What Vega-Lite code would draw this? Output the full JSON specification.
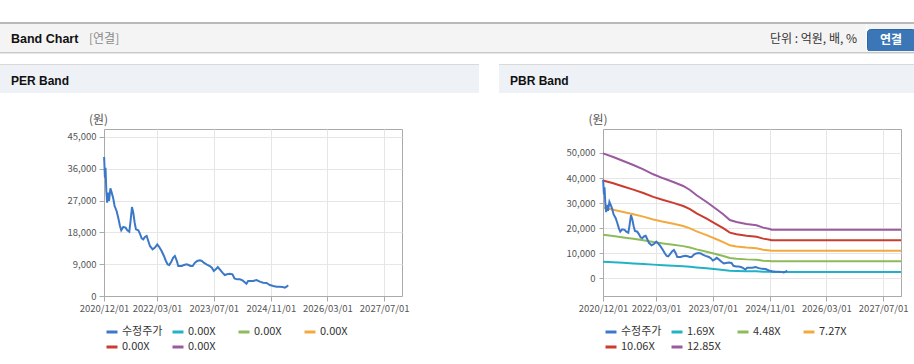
{
  "$schema": "https://vega.github.io/schema/vega-lite/v6.json",
  "background": "#ffffff",
  "padding": {"left": 0, "top": 22, "right": 0, "bottom": 0},
  "config": {
    "view": {"stroke": null},
    "title": {"anchor": "start", "frame": "group", "baseline": "middle"},
    "axis": {
      "labelFont": "Noto Sans CJK KR", "labelFontSize": 9.5, "labelColor": "#555555",
      "tickColor": "#aaaaaa", "domainColor": "#aaaaaa", "gridColor": "#e6e6e6",
      "titleFont": "Noto Sans CJK KR", "titleFontWeight": "normal", "titleFontSize": 12, "titleColor": "#555555"
    }
  },
  "datasets": {
    "price": [
      {"d":"2020-12-02","s":"수정주가","v":39340},{"d":"2020-12-09","s":"수정주가","v":33490},{"d":"2020-12-14","s":"수정주가","v":36300},{"d":"2020-12-21","s":"수정주가","v":29720},{"d":"2020-12-28","s":"수정주가","v":26410},{"d":"2021-01-05","s":"수정주가","v":29250},{"d":"2021-01-13","s":"수정주가","v":26890},{"d":"2021-01-25","s":"수정주가","v":30470},{"d":"2021-02-05","s":"수정주가","v":29250},{"d":"2021-02-17","s":"수정주가","v":27830},{"d":"2021-03-02","s":"수정주가","v":25470},{"d":"2021-03-19","s":"수정주가","v":24060},{"d":"2021-04-02","s":"수정주가","v":22170},{"d":"2021-04-17","s":"수정주가","v":19810},{"d":"2021-04-28","s":"수정주가","v":18590},{"d":"2021-05-15","s":"수정주가","v":19530},{"d":"2021-06-04","s":"수정주가","v":19340},{"d":"2021-06-19","s":"수정주가","v":18590},{"d":"2021-07-06","s":"수정주가","v":18210},{"d":"2021-07-17","s":"수정주가","v":21230},{"d":"2021-07-29","s":"수정주가","v":25190},{"d":"2021-08-09","s":"수정주가","v":23590},{"d":"2021-08-21","s":"수정주가","v":20750},{"d":"2021-09-01","s":"수정주가","v":18870},{"d":"2021-09-21","s":"수정주가","v":18590},{"d":"2021-10-05","s":"수정주가","v":17640},{"d":"2021-10-20","s":"수정주가","v":16320},{"d":"2021-11-03","s":"수정주가","v":16040},{"d":"2021-11-17","s":"수정주가","v":16700},{"d":"2021-12-02","s":"수정주가","v":16980},{"d":"2021-12-16","s":"수정주가","v":15570},{"d":"2021-12-30","s":"수정주가","v":14150},{"d":"2022-01-22","s":"수정주가","v":13210},{"d":"2022-02-11","s":"수정주가","v":13680},{"d":"2022-03-03","s":"수정주가","v":14620},{"d":"2022-03-20","s":"수정주가","v":13870},{"d":"2022-04-09","s":"수정주가","v":12740},{"d":"2022-04-29","s":"수정주가","v":11320},{"d":"2022-05-16","s":"수정주가","v":9910},{"d":"2022-05-31","s":"수정주가","v":8960},{"d":"2022-06-14","s":"수정주가","v":8770},{"d":"2022-07-01","s":"수정주가","v":9720},{"d":"2022-07-18","s":"수정주가","v":10850},{"d":"2022-08-01","s":"수정주가","v":11320},{"d":"2022-08-16","s":"수정주가","v":10090},{"d":"2022-08-30","s":"수정주가","v":8490},{"d":"2022-09-28","s":"수정주가","v":8490},{"d":"2022-10-18","s":"수정주가","v":8770},{"d":"2022-11-10","s":"수정주가","v":8960},{"d":"2022-11-27","s":"수정주가","v":8770},{"d":"2022-12-14","s":"수정주가","v":8490},{"d":"2022-12-31","s":"수정주가","v":8490},{"d":"2023-01-20","s":"수정주가","v":9430},{"d":"2023-02-09","s":"수정주가","v":9910},{"d":"2023-03-03","s":"수정주가","v":10090},{"d":"2023-03-20","s":"수정주가","v":9910},{"d":"2023-04-06","s":"수정주가","v":9430},{"d":"2023-04-29","s":"수정주가","v":8960},{"d":"2023-05-28","s":"수정주가","v":8490},{"d":"2023-06-14","s":"수정주가","v":8020},{"d":"2023-07-01","s":"수정주가","v":7080},{"d":"2023-07-18","s":"수정주가","v":7550},{"d":"2023-08-04","s":"수정주가","v":8210},{"d":"2023-08-21","s":"수정주가","v":7550},{"d":"2023-09-13","s":"수정주가","v":6600},{"d":"2023-10-03","s":"수정주가","v":5940},{"d":"2023-10-23","s":"수정주가","v":6130},{"d":"2023-11-15","s":"수정주가","v":6320},{"d":"2023-12-08","s":"수정주가","v":6130},{"d":"2023-12-25","s":"수정주가","v":5000},{"d":"2024-01-17","s":"수정주가","v":4720},{"d":"2024-02-09","s":"수정주가","v":4720},{"d":"2024-03-03","s":"수정주가","v":4430},{"d":"2024-03-17","s":"수정주가","v":4060},{"d":"2024-04-06","s":"수정주가","v":3490},{"d":"2024-04-20","s":"수정주가","v":4250},{"d":"2024-06-03","s":"수정주가","v":4250},{"d":"2024-07-01","s":"수정주가","v":4530},{"d":"2024-07-30","s":"수정주가","v":4060},{"d":"2024-08-27","s":"수정주가","v":3770},{"d":"2024-09-25","s":"수정주가","v":3680},{"d":"2024-10-24","s":"수정주가","v":3110},{"d":"2024-11-22","s":"수정주가","v":2830},{"d":"2024-12-20","s":"수정주가","v":2640},{"d":"2025-01-18","s":"수정주가","v":2640},{"d":"2025-02-10","s":"수정주가","v":2550},{"d":"2025-03-02","s":"수정주가","v":2360},{"d":"2025-03-16","s":"수정주가","v":2640},{"d":"2025-03-30","s":"수정주가","v":3020}
    ],
    "pbr": [
      {"d":"2020-12-01","s":"1.69X","v":6557},{"d":"2021-02-27","s":"1.69X","v":6366},{"d":"2021-05-24","s":"1.69X","v":6157},{"d":"2021-08-18","s":"1.69X","v":5945},{"d":"2021-11-12","s":"1.69X","v":5719},{"d":"2022-02-05","s":"1.69X","v":5459},{"d":"2022-05-02","s":"1.69X","v":5247},{"d":"2022-07-27","s":"1.69X","v":5055},{"d":"2022-10-20","s":"1.69X","v":4844},{"d":"2022-12-17","s":"1.69X","v":4634},{"d":"2023-02-12","s":"1.69X","v":4355},{"d":"2023-05-09","s":"1.69X","v":4005},{"d":"2023-08-02","s":"1.69X","v":3620},{"d":"2023-09-28","s":"1.69X","v":3360},{"d":"2023-11-24","s":"1.69X","v":3061},{"d":"2024-01-20","s":"1.69X","v":2956},{"d":"2024-04-15","s":"1.69X","v":2849},{"d":"2024-07-10","s":"1.69X","v":2782},{"d":"2024-09-05","s":"1.69X","v":2658},{"d":"2024-11-01","s":"1.69X","v":2589},{"d":"2024-11-15","s":"1.69X","v":2554},{"d":"2027-12-01","s":"1.69X","v":2554},
      {"d":"2020-12-01","s":"4.48X","v":17382},{"d":"2021-02-27","s":"4.48X","v":16876},{"d":"2021-05-24","s":"4.48X","v":16321},{"d":"2021-08-18","s":"4.48X","v":15761},{"d":"2021-11-12","s":"4.48X","v":15160},{"d":"2022-02-05","s":"4.48X","v":14470},{"d":"2022-05-02","s":"4.48X","v":13910},{"d":"2022-07-27","s":"4.48X","v":13400},{"d":"2022-10-20","s":"4.48X","v":12840},{"d":"2022-12-17","s":"4.48X","v":12284},{"d":"2023-02-12","s":"4.48X","v":11545},{"d":"2023-05-09","s":"4.48X","v":10618},{"d":"2023-08-02","s":"4.48X","v":9596},{"d":"2023-09-28","s":"4.48X","v":8906},{"d":"2023-11-24","s":"4.48X","v":8113},{"d":"2024-01-20","s":"4.48X","v":7836},{"d":"2024-04-15","s":"4.48X","v":7553},{"d":"2024-07-10","s":"4.48X","v":7374},{"d":"2024-09-05","s":"4.48X","v":7047},{"d":"2024-11-01","s":"4.48X","v":6863},{"d":"2024-11-15","s":"4.48X","v":6769},{"d":"2027-12-01","s":"4.48X","v":6769},
      {"d":"2020-12-01","s":"7.27X","v":28208},{"d":"2021-02-27","s":"7.27X","v":27386},{"d":"2021-05-24","s":"7.27X","v":26485},{"d":"2021-08-18","s":"7.27X","v":25576},{"d":"2021-11-12","s":"7.27X","v":24602},{"d":"2022-02-05","s":"7.27X","v":23482},{"d":"2022-05-02","s":"7.27X","v":22573},{"d":"2022-07-27","s":"7.27X","v":21745},{"d":"2022-10-20","s":"7.27X","v":20836},{"d":"2022-12-17","s":"7.27X","v":19934},{"d":"2023-02-12","s":"7.27X","v":18735},{"d":"2023-05-09","s":"7.27X","v":17230},{"d":"2023-08-02","s":"7.27X","v":15572},{"d":"2023-09-28","s":"7.27X","v":14453},{"d":"2023-11-24","s":"7.27X","v":13166},{"d":"2024-01-20","s":"7.27X","v":12715},{"d":"2024-04-15","s":"7.27X","v":12257},{"d":"2024-07-10","s":"7.27X","v":11966},{"d":"2024-09-05","s":"7.27X","v":11436},{"d":"2024-11-01","s":"7.27X","v":11138},{"d":"2024-11-15","s":"7.27X","v":10985},{"d":"2027-12-01","s":"7.27X","v":10985},
      {"d":"2020-12-01","s":"10.06X","v":39033},{"d":"2021-02-27","s":"10.06X","v":37896},{"d":"2021-05-24","s":"10.06X","v":36649},{"d":"2021-08-18","s":"10.06X","v":35391},{"d":"2021-11-12","s":"10.06X","v":34043},{"d":"2022-02-05","s":"10.06X","v":32494},{"d":"2022-05-02","s":"10.06X","v":31236},{"d":"2022-07-27","s":"10.06X","v":30089},{"d":"2022-10-20","s":"10.06X","v":28832},{"d":"2022-12-17","s":"10.06X","v":27585},{"d":"2023-02-12","s":"10.06X","v":25925},{"d":"2023-05-09","s":"10.06X","v":23842},{"d":"2023-08-02","s":"10.06X","v":21549},{"d":"2023-09-28","s":"10.06X","v":19999},{"d":"2023-11-24","s":"10.06X","v":18219},{"d":"2024-01-20","s":"10.06X","v":17595},{"d":"2024-04-15","s":"10.06X","v":16961},{"d":"2024-07-10","s":"10.06X","v":16559},{"d":"2024-09-05","s":"10.06X","v":15824},{"d":"2024-11-01","s":"10.06X","v":15412},{"d":"2024-11-15","s":"10.06X","v":15201},{"d":"2027-12-01","s":"10.06X","v":15201},
      {"d":"2020-12-01","s":"12.85X","v":49858},{"d":"2021-02-27","s":"12.85X","v":48406},{"d":"2021-05-24","s":"12.85X","v":46813},{"d":"2021-08-18","s":"12.85X","v":45206},{"d":"2021-11-12","s":"12.85X","v":43484},{"d":"2022-02-05","s":"12.85X","v":41506},{"d":"2022-05-02","s":"12.85X","v":39899},{"d":"2022-07-27","s":"12.85X","v":38434},{"d":"2022-10-20","s":"12.85X","v":36828},{"d":"2022-12-17","s":"12.85X","v":35235},{"d":"2023-02-12","s":"12.85X","v":33114},{"d":"2023-05-09","s":"12.85X","v":30455},{"d":"2023-08-02","s":"12.85X","v":27525},{"d":"2023-09-28","s":"12.85X","v":25546},{"d":"2023-11-24","s":"12.85X","v":23271},{"d":"2024-01-20","s":"12.85X","v":22475},{"d":"2024-04-15","s":"12.85X","v":21665},{"d":"2024-07-10","s":"12.85X","v":21151},{"d":"2024-09-05","s":"12.85X","v":20213},{"d":"2024-11-01","s":"12.85X","v":19686},{"d":"2024-11-15","s":"12.85X","v":19416},{"d":"2027-12-01","s":"12.85X","v":19416}
    ]
  },
  "spacing": 0,
  "vconcat": [
    {"width": 914, "height": 2, "data": {"values": []}, "mark": "point", "view": {"fill": "#b9b9b9"}},
    {
      "hconcat": [
        {"width": 86, "height": 28, "data": {"values": []}, "mark": "point", "view": {"fill": "#f4f4f4"},
         "title": {"text": "Band Chart", "dx": 11, "dy": 7, "offset": -14.5, "font": "Liberation Sans", "fontSize": 12.5, "fontWeight": "bold", "color": "#111111"}},
        {"width": 684, "height": 28, "data": {"values": []}, "mark": "point", "view": {"fill": "#f4f4f4"},
         "title": {"text": "[연결]", "dx": 3, "dy": 7, "offset": -14.5, "font": "Noto Sans CJK KR", "fontSize": 12, "fontWeight": "normal", "color": "#8a8a8a"}},
        {"width": 96, "height": 28, "data": {"values": []}, "mark": "point", "view": {"fill": "#f4f4f4"},
         "title": {"text": "단위 : 억원, 배, %", "dx": 0, "dy": 7, "offset": -14.5, "font": "Noto Sans CJK KR", "fontSize": 12, "fontWeight": "normal", "color": "#333333"}},
        {
          "vconcat": [
            {"width": 48, "height": 5, "data": {"values": []}, "mark": "point", "view": {"fill": "#f4f4f4"}},
            {"width": 48, "height": 22, "data": {"values": []}, "mark": "point", "view": {"fill": "#3b77b7", "stroke": "#2e65a3", "cornerRadius": 3},
             "title": {"text": "연결", "anchor": "middle", "dy": 7, "offset": -11, "font": "Noto Sans CJK KR", "fontSize": 12, "fontWeight": "bold", "color": "#ffffff"}},
            {"width": 48, "height": 1, "data": {"values": []}, "mark": "point", "view": {"fill": "#f4f4f4"}}
          ],
          "spacing": 0, "bounds": "flush"
        }
      ],
      "spacing": 0
    },
    {"width": 914, "height": 1, "data": {"values": []}, "mark": "point", "view": {"fill": "#c8c8c8"}},
    {"width": 914, "height": 1, "data": {"values": []}, "mark": "point", "view": {"fill": "#e6e6e6"}},
    {"width": 914, "height": 10, "data": {"values": []}, "mark": "point"},
    {
      "resolve": {"scale": {"color": "independent"}, "legend": {"color": "independent"}},
      "hconcat": [
        {
          "resolve": {"scale": {"color": "independent"}, "legend": {"color": "independent"}},
          "vconcat": [
            {"width": 479, "height": 1, "data": {"values": []}, "mark": "point", "view": {"fill": "#dadada"}},
            {"width": 479, "height": 28, "data": {"values": []}, "mark": "point", "view": {"fill": "#eef2f7"},
             "title": {"text": "PER Band", "dx": 11, "dy": 7, "offset": -15.5, "font": "Liberation Sans", "fontSize": 12, "fontWeight": "bold", "color": "#111111"}},
            {"width": 479, "height": 19, "data": {"values": []}, "mark": "point"},
            {
              "resolve": {"scale": {"color": "independent"}, "legend": {"color": "independent"}},
              "hconcat": [
                {"width": 104, "height": 167, "data": {"values": []}, "mark": "point"},
                {
                  "width": 298, "height": 167,
                  "view": {"stroke": "#aaaaaa", "fill": "#ffffff"},
                  "data": {"name": "price"},
                  "mark": {"type": "line", "strokeWidth": 2},
                  "encoding": {
                    "x": {"field": "d", "type": "temporal",
                      "scale": {"type": "utc", "domain": [{"year": 2020, "month": 12, "date": 1, "utc": true}, {"year": 2027, "month": 12, "date": 1, "utc": true}]},
                      "axis": {"title": null, "format": "%Y/%m/%d", "grid": true, "tickSize": 5, "labelPadding": 2, "labelFlush": false, "labelOverlap": false,
                        "values": [{"year": 2020, "month": 12, "date": 1, "utc": true}, {"year": 2022, "month": 3, "date": 1, "utc": true}, {"year": 2023, "month": 7, "date": 1, "utc": true}, {"year": 2024, "month": 11, "date": 1, "utc": true}, {"year": 2026, "month": 3, "date": 1, "utc": true}, {"year": 2027, "month": 7, "date": 1, "utc": true}]}},
                    "y": {"field": "v", "type": "quantitative",
                      "scale": {"domain": [0, 47260], "nice": false, "zero": false},
                      "axis": {"values": [0, 9000, 18000, 27000, 36000, 45000], "format": ",d", "grid": true, "tickSize": 5, "labelPadding": 3,
                        "title": "(원)", "titleAngle": 0, "titleX": -6, "titleY": -10, "titleAlign": "center", "titleBaseline": "middle"}},
                    "color": {"field": "s", "type": "nominal",
                      "scale": {"domain": ["수정주가", "a", "b", "c", "d", "e"], "range": ["#3c78c8", "#22b2c6", "#8dbb5b", "#f2aa3e", "#cc3b2f", "#9a5aa0"]},
                      "legend": {"orient": "none", "legendX": 1, "legendY": 196, "direction": "horizontal", "columns": 4, "gridAlign": "all", "columnPadding": 3, "rowPadding": 2,
                        "title": null, "symbolType": "stroke", "symbolStrokeWidth": 3, "symbolSize": 121, "labelFont": "Noto Sans CJK KR", "labelFontSize": 11, "labelColor": "#333333", "labelOffset": 3, "padding": 0,
                        "labelExpr": "datum.value == '수정주가' ? '수정주가' : '0.00X'"}}
                  }
                }
              ],
              "spacing": 0, "bounds": "flush"
            },
            {"width": 479, "height": 13, "data": {"values": []}, "mark": "point"},
            {"width": 479, "height": 1, "data": {"values": []}, "mark": "point", "view": {"fill": "#d8d8d8"}}
          ],
          "spacing": 0
        },
        {
          "resolve": {"scale": {"color": "independent"}, "legend": {"color": "independent"}},
          "vconcat": [
            {"width": 415, "height": 1, "data": {"values": []}, "mark": "point", "view": {"fill": "#dadada"}},
            {"width": 415, "height": 28, "data": {"values": []}, "mark": "point", "view": {"fill": "#eef2f7"},
             "title": {"text": "PBR Band", "dx": 11, "dy": 7, "offset": -15.5, "font": "Liberation Sans", "fontSize": 12, "fontWeight": "bold", "color": "#111111"}},
            {"width": 415, "height": 19, "data": {"values": []}, "mark": "point"},
            {
              "resolve": {"scale": {"color": "independent"}, "legend": {"color": "independent"}},
              "hconcat": [
                {"width": 104, "height": 167, "data": {"values": []}, "mark": "point"},
                {
                  "width": 298, "height": 167,
                  "view": {"stroke": "#aaaaaa", "fill": "#ffffff"},
                  "encoding": {
                    "x": {"field": "d", "type": "temporal",
                      "scale": {"type": "utc", "domain": [{"year": 2020, "month": 12, "date": 1, "utc": true}, {"year": 2027, "month": 12, "date": 1, "utc": true}]},
                      "axis": {"title": null, "format": "%Y/%m/%d", "grid": true, "tickSize": 5, "labelPadding": 2, "labelFlush": false, "labelOverlap": false,
                        "values": [{"year": 2020, "month": 12, "date": 1, "utc": true}, {"year": 2022, "month": 3, "date": 1, "utc": true}, {"year": 2023, "month": 7, "date": 1, "utc": true}, {"year": 2024, "month": 11, "date": 1, "utc": true}, {"year": 2026, "month": 3, "date": 1, "utc": true}, {"year": 2027, "month": 7, "date": 1, "utc": true}]}},
                    "y": {"field": "v", "type": "quantitative",
                      "scale": {"domain": [-7060, 59570], "nice": false, "zero": false},
                      "axis": {"values": [0, 10000, 20000, 30000, 40000, 50000], "format": ",d", "grid": true, "tickSize": 4, "labelPadding": 4,
                        "title": "(원)", "titleAngle": 0, "titleX": -5.5, "titleY": -10, "titleAlign": "center", "titleBaseline": "middle"}},
                    "color": {"field": "s", "type": "nominal",
                      "scale": {"domain": ["수정주가", "1.69X", "4.48X", "7.27X", "10.06X", "12.85X"], "range": ["#3c78c8", "#22b2c6", "#8dbb5b", "#f2aa3e", "#cc3b2f", "#9a5aa0"]},
                      "legend": {"orient": "none", "legendX": 1, "legendY": 196, "direction": "horizontal", "columns": 4, "gridAlign": "all", "columnPadding": 3, "rowPadding": 2,
                        "title": null, "symbolType": "stroke", "symbolStrokeWidth": 3, "symbolSize": 121, "labelFont": "Noto Sans CJK KR", "labelFontSize": 11, "labelColor": "#333333", "labelOffset": 3, "padding": 0}}
                  },
                  "layer": [
                    {"data": {"name": "pbr"}, "mark": {"type": "line", "strokeWidth": 2}},
                    {"data": {"name": "price"}, "mark": {"type": "line", "strokeWidth": 2}}
                  ]
                }
              ],
              "spacing": 0, "bounds": "flush"
            },
            {"width": 415, "height": 13, "data": {"values": []}, "mark": "point"},
            {"width": 415, "height": 1, "data": {"values": []}, "mark": "point", "view": {"fill": "#d8d8d8"}}
          ],
          "spacing": 0
        }
      ],
      "spacing": 20
    }
  ]
}
